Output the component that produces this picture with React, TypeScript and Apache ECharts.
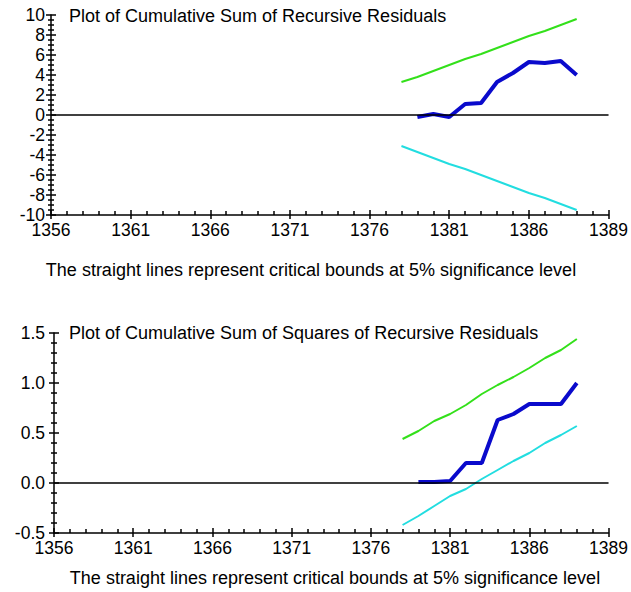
import React, { useEffect, useRef } from 'react';
import * as echarts from 'echarts';

const BASE_YEAR = 1356;
const xTickLabels = ['1356', '1361', '1366', '1371', '1376', '1381', '1386', '1389'];

const boundYears = [1378, 1379, 1380, 1381, 1382, 1383, 1384, 1385, 1386, 1387, 1388, 1389];
const residYears = [1379, 1380, 1381, 1382, 1383, 1384, 1385, 1386, 1387, 1388, 1389];

const cusum = [-0.2, 0.1, -0.2, 1.1, 1.2, 3.3, 4.2, 5.3, 5.2, 5.4, 4.0];
const cusumUpper = [3.3, 3.8, 4.4, 5.0, 5.6, 6.1, 6.7, 7.3, 7.9, 8.4, 9.0, 9.6];
const cusumLower = [-3.1, -3.7, -4.3, -4.9, -5.4, -6.0, -6.6, -7.2, -7.8, -8.3, -8.9, -9.5];

const cusumSq = [0.01, 0.01, 0.02, 0.2, 0.2, 0.63, 0.69, 0.79, 0.79, 0.79, 1.0];
const sqUpper = [0.44, 0.52, 0.62, 0.69, 0.78, 0.89, 0.98, 1.06, 1.15, 1.25, 1.33, 1.44];
const sqLower = [-0.42, -0.33, -0.23, -0.13, -0.06, 0.04, 0.13, 0.22, 0.3, 0.4, 0.48, 0.57];

const titles = [
  'Plot of Cumulative Sum of Recursive Residuals',
  'Plot of Cumulative Sum of Squares of Recursive Residuals',
];
const caption = 'The straight lines represent critical bounds at 5% significance level';

const FONT = 'Liberation Sans, Arial, sans-serif';
const TICK_FONT = 17.5;

const pts = (years: number[], vals: number[]) => years.map((y, i) => [y - BASE_YEAR, vals[i]]);

function xAxes(gridIndex: number, labelMargin: number) {
  const common = {
    gridIndex,
    type: 'value' as const,
    min: 0,
    max: 35,
    interval: 5,
    position: 'bottom' as const,
    splitLine: { show: false },
  };
  return [
    {
      ...common,
      axisLine: { show: true, onZero: false, lineStyle: { color: '#000', width: 1.5 } },
      axisTick: { show: true, inside: false, length: 4, lineStyle: { color: '#000', width: 1.5 } },
      minorTick: { show: false },
      axisLabel: {
        show: true,
        margin: labelMargin,
        color: '#000',
        fontFamily: FONT,
        fontSize: TICK_FONT,
        formatter: (v: number) => xTickLabels[Math.round(v / 5)] ?? '',
      },
    },
    {
      ...common,
      axisLine: { show: false, onZero: false },
      axisTick: { show: true, inside: true, length: 5, lineStyle: { color: '#000', width: 1.5 } },
      minorTick: { show: true, splitNumber: 5, length: 4, lineStyle: { color: '#000', width: 1.5 } },
      axisLabel: { show: false },
    },
  ];
}

function yAxes(gridIndex: number, min: number, max: number, interval: number, minorSplit: number, fmt: (v: number) => string, margin: number) {
  const common = {
    gridIndex,
    type: 'value' as const,
    min,
    max,
    interval,
    position: 'left' as const,
    splitLine: { show: false },
  };
  return [
    {
      ...common,
      axisLine: { show: true, onZero: false, lineStyle: { color: '#000', width: 1.5 } },
      axisTick: { show: true, inside: false, length: 5, lineStyle: { color: '#000', width: 1.5 } },
      minorTick: { show: true, splitNumber: minorSplit, length: 3, lineStyle: { color: '#000', width: 1.5 } },
      axisLabel: { show: true, margin, color: '#000', fontFamily: FONT, fontSize: TICK_FONT, formatter: fmt },
    },
    {
      ...common,
      axisLine: { show: false, onZero: false },
      axisTick: { show: true, inside: true, length: 5, lineStyle: { color: '#000', width: 1.5 } },
      minorTick: { show: true, splitNumber: minorSplit, length: 3, lineStyle: { color: '#000', width: 1.5 } },
      axisLabel: { show: false },
    },
  ];
}

const lineSeries = (name: string, data: number[][], xIdx: number, yIdx: number, color: string, width: number, extra: any = {}) => ({
  name,
  type: 'line',
  xAxisIndex: xIdx,
  yAxisIndex: yIdx,
  data,
  showSymbol: false,
  symbol: 'none',
  lineStyle: { color, width },
  z: 3,
  ...extra,
});

const zeroLine = {
  silent: true,
  symbol: 'none',
  label: { show: false },
  lineStyle: { color: '#000', width: 1.5, type: 'solid' },
  data: [{ yAxis: 0 }],
};

const titleStyle = { fontFamily: FONT, fontSize: 18, fontWeight: 'normal', color: '#000' };
const captionStyle = { text: caption, fontFamily: FONT, fontSize: 18, fill: '#000', textAlign: 'center', textVerticalAlign: 'middle' };

export default function App() {
  const ref = useRef<HTMLDivElement>(null);
  useEffect(() => {
    if (!ref.current) return;
    const chart = echarts.init(ref.current, undefined, { renderer: 'svg' });
    const option: any = {
      animation: false,
      backgroundColor: '#fff',
      title: [
        { text: titles[0], left: 69, top: 7, padding: 0, textStyle: titleStyle },
        { text: titles[1], left: 69, top: 324, padding: 0, textStyle: titleStyle },
      ],
      grid: [
        { left: 51, top: 15, right: 22, height: 200, containLabel: false },
        { left: 54, top: 333, right: 22, height: 200, containLabel: false },
      ],
      xAxis: [...xAxes(0, 6), ...xAxes(1, 6)],
      yAxis: [
        ...yAxes(0, -10, 10, 2, 4, (v: number) => String(v), 6),
        ...yAxes(1, -0.5, 1.5, 0.5, 5, (v: number) => v.toFixed(1), 9),
      ],
      graphic: [
        { type: 'text', x: 311, y: 270, style: captionStyle },
        { type: 'text', x: 335, y: 578, style: captionStyle },
      ],
      series: [
        lineSeries('CUSUM upper bound', pts(boundYears, cusumUpper), 0, 0, '#33e01a', 2),
        lineSeries('CUSUM lower bound', pts(boundYears, cusumLower), 0, 0, '#22dde0', 2),
        lineSeries('CUSUM', pts(residYears, cusum), 0, 0, '#0a0acc', 4, { markLine: zeroLine, z: 4 }),
        lineSeries('CUSUMSQ upper bound', pts(boundYears, sqUpper), 2, 2, '#33e01a', 2),
        lineSeries('CUSUMSQ lower bound', pts(boundYears, sqLower), 2, 2, '#22dde0', 2),
        lineSeries('CUSUMSQ', pts(residYears, cusumSq), 2, 2, '#0a0acc', 4, { markLine: zeroLine, z: 4 }),
      ],
    };
    chart.setOption(option);
    return () => chart.dispose();
  }, []);
  return <div ref={ref} style={{ position: 'absolute', left: 0, top: 0, width: 631, height: 592 }} />;
}
